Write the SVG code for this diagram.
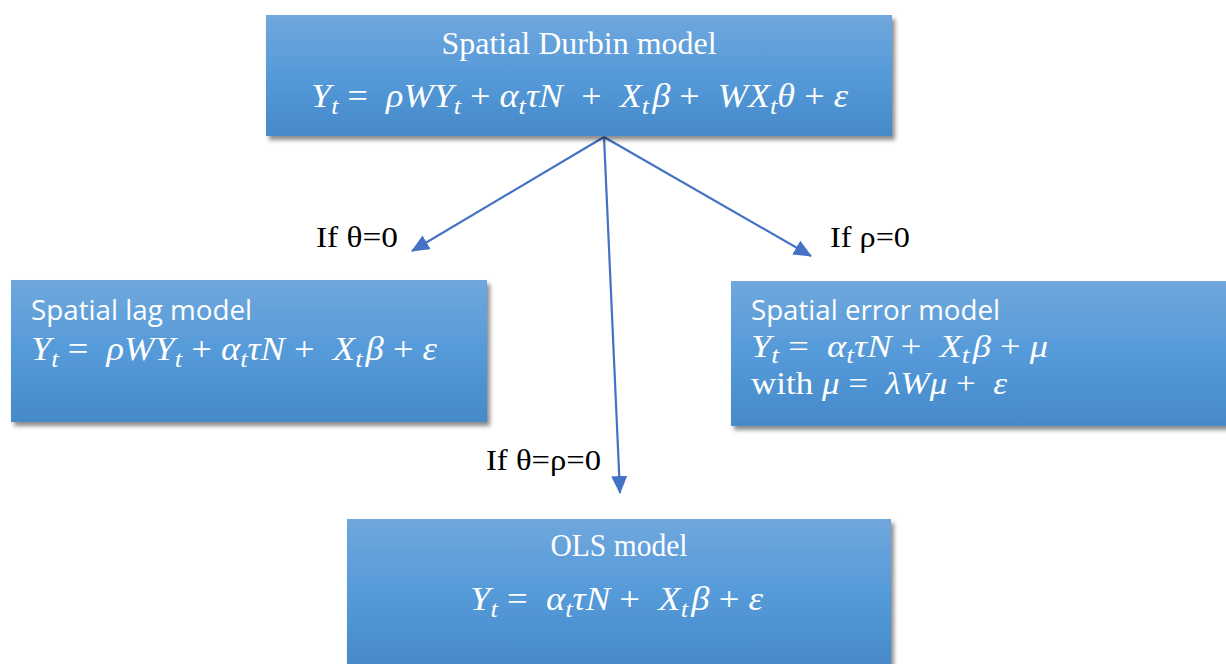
<svg xmlns="http://www.w3.org/2000/svg" width="1226" height="664" viewBox="0 0 1226 664">
<defs>
<linearGradient id="g" x1="0" y1="0" x2="0" y2="1">
<stop offset="0" stop-color="#70a7dd"/>
<stop offset="0.5" stop-color="#559ad9"/>
<stop offset="1" stop-color="#4689c9"/>
</linearGradient>
<filter id="sh" x="-5%" y="-5%" width="115%" height="125%">
<feDropShadow dx="3" dy="4" stdDeviation="2" flood-color="#000" flood-opacity="0.45"/>
</filter>
<marker id="ah" viewBox="0 0 18 16" refX="17" refY="8" markerWidth="18" markerHeight="16" markerUnits="userSpaceOnUse" orient="auto">
<path d="M0,0 L18,8 L0,16 z" fill="#4472c4"/>
</marker>
</defs>
<style>
.box{fill:url(#g);filter:url(#sh);}
.ttl{font-family:"Liberation Serif","Times New Roman",serif;font-size:31px;fill:#fff;}
.sans{font-family:"Open Sans","Liberation Sans",sans-serif;font-size:27px;fill:#fff;}
.eq{font-family:"Liberation Serif","DejaVu Serif",serif;font-size:33px;fill:#fff;white-space:pre;}
.eq2{font-family:"Liberation Serif","DejaVu Serif",serif;font-size:31px;fill:#fff;white-space:pre;}
.v{font-style:italic;}
.s{font-style:italic;font-size:24px;}
.lbl{font-family:"Liberation Serif","Times New Roman",serif;font-size:29px;fill:#000;}
.c{stroke:#4472c4;stroke-width:2.2;fill:none;marker-end:url(#ah);}
</style>
<rect width="1226" height="664" fill="#fff"/>
<g id="connectors">
<line class="c" x1="604" y1="137" x2="412" y2="251"/>
<line class="c" x1="604" y1="137" x2="620" y2="493"/>
<line class="c" x1="604" y1="137" x2="811" y2="256"/>
</g>
<g id="labels">
<text class="lbl" x="316" y="247" textLength="82" lengthAdjust="spacingAndGlyphs">If θ=0</text>
<text class="lbl" x="830" y="247" textLength="80" lengthAdjust="spacingAndGlyphs">If ρ=0</text>
<text class="lbl" x="486" y="470" textLength="115" lengthAdjust="spacingAndGlyphs">If θ=ρ=0</text>
</g>
<g id="durbin">
<rect class="box" x="266" y="15" width="626" height="121"/>
<text class="ttl" x="579" y="54" text-anchor="middle" textLength="275" lengthAdjust="spacingAndGlyphs">Spatial Durbin model</text>
<text class="eq" x="311" y="107" textLength="537" lengthAdjust="spacingAndGlyphs"><tspan class="v">Y</tspan><tspan class="s" dy="7">t</tspan><tspan dy="-7">&#160;=&#160;&#160;</tspan><tspan class="v">ρWY</tspan><tspan class="s" dy="7">t</tspan><tspan dy="-7">&#160;+&#160;</tspan><tspan class="v">α</tspan><tspan class="s" dy="7">t</tspan><tspan class="v" dy="-7">τN</tspan><tspan>&#160;&#160;+&#160;&#160;</tspan><tspan class="v">X</tspan><tspan class="s" dy="7">t</tspan><tspan class="v" dy="-7">&#8202;β</tspan><tspan>&#160;+&#160;&#160;</tspan><tspan class="v">WX</tspan><tspan class="s" dy="7">t</tspan><tspan class="v" dy="-7">θ</tspan><tspan>&#160;+&#160;</tspan><tspan class="v">ε</tspan></text>
</g>
<g id="lag">
<rect class="box" x="11" y="280" width="476" height="142"/>
<text class="sans" x="31" y="320" textLength="221" lengthAdjust="spacingAndGlyphs">Spatial lag model</text>
<text class="eq" x="31" y="360" textLength="406" lengthAdjust="spacingAndGlyphs"><tspan class="v">Y</tspan><tspan class="s" dy="7">t</tspan><tspan dy="-7">&#160;=&#160;&#160;</tspan><tspan class="v">ρWY</tspan><tspan class="s" dy="7">t</tspan><tspan dy="-7">&#160;+&#160;</tspan><tspan class="v">α</tspan><tspan class="s" dy="7">t</tspan><tspan class="v" dy="-7">τN</tspan><tspan>&#160;+&#160;&#160;</tspan><tspan class="v">X</tspan><tspan class="s" dy="7">t</tspan><tspan class="v" dy="-7">&#8202;β</tspan><tspan>&#160;+&#160;</tspan><tspan class="v">ε</tspan></text>
</g>
<g id="error">
<rect class="box" x="731" y="281" width="500" height="145"/>
<text class="sans" x="751" y="320" textLength="249" lengthAdjust="spacingAndGlyphs">Spatial error model</text>
<text class="eq2" x="751" y="357" textLength="297" lengthAdjust="spacingAndGlyphs"><tspan class="v">Y</tspan><tspan class="s" dy="6">t</tspan><tspan dy="-6">&#160;=&#160;&#160;</tspan><tspan class="v">α</tspan><tspan class="s" dy="6">t</tspan><tspan class="v" dy="-6">τN</tspan><tspan>&#160;+&#160;&#160;</tspan><tspan class="v">X</tspan><tspan class="s" dy="6">t</tspan><tspan class="v" dy="-6">&#8202;β</tspan><tspan>&#160;+&#160;</tspan><tspan class="v">μ</tspan></text>
<text class="eq2" x="751" y="394" textLength="256" lengthAdjust="spacingAndGlyphs"><tspan>with </tspan><tspan class="v">μ</tspan><tspan>&#160;=&#160;&#160;</tspan><tspan class="v">λWμ</tspan><tspan>&#160;+&#160;&#160;</tspan><tspan class="v">ε</tspan></text>
</g>
<g id="ols">
<rect class="box" x="347" y="519" width="544" height="150"/>
<text class="ttl" x="619" y="556" text-anchor="middle" textLength="137" lengthAdjust="spacingAndGlyphs">OLS model</text>
<text class="eq" x="470" y="610" textLength="293" lengthAdjust="spacingAndGlyphs"><tspan class="v">Y</tspan><tspan class="s" dy="7">t</tspan><tspan dy="-7">&#160;=&#160;&#160;</tspan><tspan class="v">α</tspan><tspan class="s" dy="7">t</tspan><tspan class="v" dy="-7">τN</tspan><tspan>&#160;+&#160;&#160;</tspan><tspan class="v">X</tspan><tspan class="s" dy="7">t</tspan><tspan class="v" dy="-7">&#8202;β</tspan><tspan>&#160;+&#160;</tspan><tspan class="v">ε</tspan></text>
</g>
</svg>
